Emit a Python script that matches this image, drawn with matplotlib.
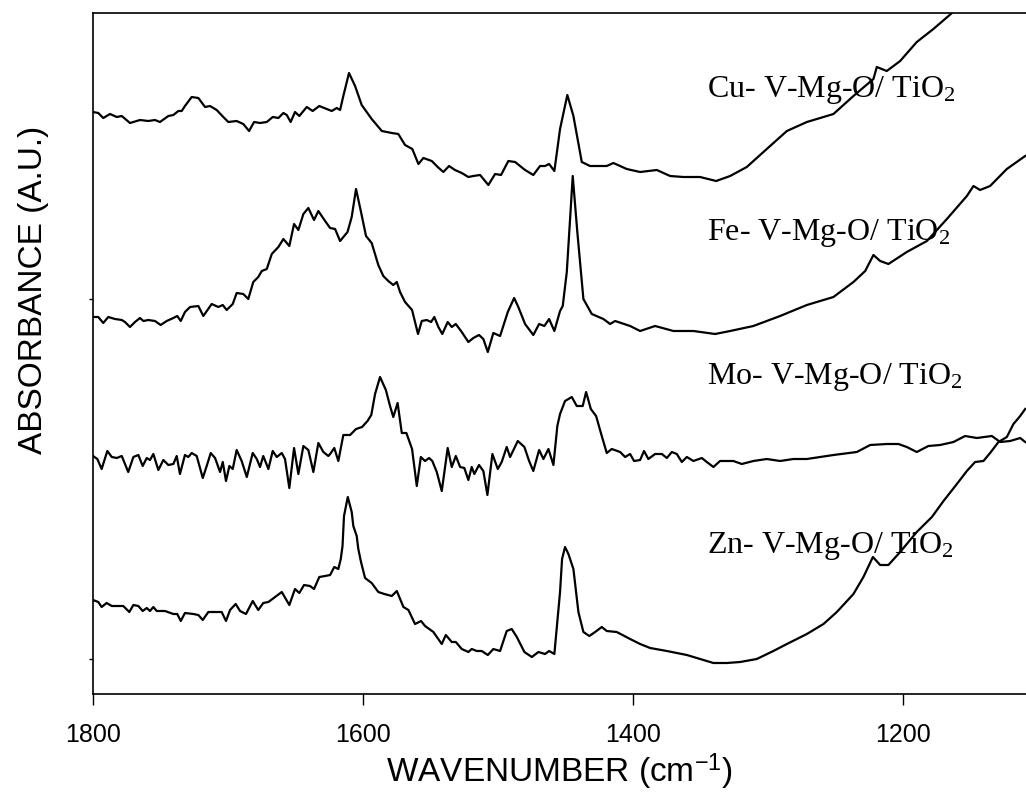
import matplotlib
matplotlib.use("Agg")
import matplotlib.pyplot as plt

# ---------------- data (arbitrary absorbance units) ----------------
cu_wn = [1800.0, 1796.1, 1792.4, 1787.4, 1782.4, 1778.7, 1772.6, 1765.2, 1759.0, 1754.1,
         1750.4, 1744.2, 1740.5, 1736.8, 1734.3, 1731.9, 1726.9, 1722.0, 1717.0, 1713.3,
         1708.4, 1703.5, 1699.8, 1693.6, 1688.7, 1684.4, 1680.7, 1676.3, 1671.3, 1666.9,
         1662.7, 1659.0, 1656.5, 1653.6, 1650.4, 1647.2, 1641.7, 1637.3, 1632.4, 1626.9,
         1623.2, 1619.5, 1617.0, 1614.6, 1610.4, 1605.9, 1601.0, 1593.6, 1586.1, 1578.7,
         1573.9, 1568.9, 1563.5, 1559.0, 1555.3, 1549.1, 1544.7, 1540.5, 1536.3, 1531.9,
         1526.9, 1522.0, 1518.3, 1513.3, 1507.2, 1502.2, 1497.8, 1492.4, 1487.4, 1480.0,
         1473.9, 1468.9, 1465.2, 1462.2, 1458.3, 1454.1, 1448.7, 1444.2, 1438.0, 1431.9,
         1419.5, 1414.6, 1404.7, 1394.8, 1382.4, 1372.6, 1362.7, 1350.4, 1338.5, 1328.1,
         1315.8, 1301.0, 1286.1, 1271.3, 1251.6, 1236.8, 1222.0, 1219.5, 1212.1, 1202.2,
         1189.9, 1177.6, 1164.7, 1157.8]
cu_abs = [5.82, 5.81, 5.76, 5.80, 5.77, 5.78, 5.71, 5.74, 5.73, 5.74,
          5.72, 5.78, 5.79, 5.83, 5.83, 5.88, 5.97, 5.96, 5.87, 5.88,
          5.84, 5.77, 5.72, 5.73, 5.70, 5.63, 5.72, 5.71, 5.72, 5.77,
          5.76, 5.81, 5.79, 5.72, 5.82, 5.78, 5.87, 5.83, 5.88, 5.85,
          5.83, 5.86, 5.84, 5.98, 6.21, 6.08, 5.89, 5.75, 5.63, 5.61,
          5.60, 5.49, 5.45, 5.30, 5.36, 5.33, 5.27, 5.22, 5.28, 5.24,
          5.21, 5.17, 5.18, 5.19, 5.09, 5.20, 5.19, 5.33, 5.32, 5.24,
          5.19, 5.28, 5.28, 5.30, 5.23, 5.65, 5.99, 5.78, 5.32, 5.28,
          5.28, 5.31, 5.25, 5.22, 5.24, 5.18, 5.17, 5.17, 5.13, 5.18,
          5.27, 5.45, 5.63, 5.72, 5.80, 5.98, 6.15, 6.27, 6.23, 6.33,
          6.52, 6.65, 6.80, 6.90]

fe_wn = [1800.0, 1796.1, 1792.4, 1788.7, 1783.7, 1778.7, 1776.3, 1772.6, 1768.9, 1765.2,
         1762.7, 1759.0, 1754.1, 1749.9, 1745.4, 1740.5, 1737.6, 1735.0, 1731.9, 1728.1,
         1722.0, 1718.3, 1712.1, 1707.2, 1703.9, 1701.0, 1696.5, 1693.6, 1688.7, 1685.0,
         1681.3, 1677.6, 1675.0, 1671.3, 1667.6, 1662.7, 1659.0, 1654.6, 1651.1, 1647.9,
         1644.2, 1640.5, 1636.3, 1633.1, 1628.1, 1624.4, 1620.7, 1617.0, 1611.5, 1608.4,
         1605.2, 1601.5, 1597.8, 1593.6, 1588.7, 1585.0, 1581.3, 1577.6, 1575.0, 1572.6,
         1568.9, 1563.7, 1559.3, 1556.5, 1552.8, 1549.6, 1547.2, 1544.2, 1541.3, 1537.3,
         1534.3, 1531.3, 1526.9, 1522.0, 1518.3, 1514.1, 1510.9, 1507.6, 1503.5, 1498.5,
         1492.8, 1488.1, 1485.0, 1480.0, 1473.9, 1469.6, 1465.7, 1462.2, 1458.3, 1454.1,
         1452.1, 1449.1, 1444.7, 1441.3, 1436.8, 1430.6, 1422.0, 1417.0, 1413.3, 1402.2,
         1394.8, 1383.7, 1370.1, 1355.3, 1339.3, 1328.1, 1310.9, 1291.1, 1271.3, 1251.6,
         1236.8, 1228.1, 1222.0, 1217.0, 1210.9, 1197.3, 1182.4, 1167.6, 1152.8, 1147.9,
         1143.0, 1135.6, 1123.2, 1109.6]
fe_abs = [3.77, 3.77, 3.71, 3.77, 3.75, 3.74, 3.72, 3.67, 3.72, 3.76,
          3.73, 3.74, 3.73, 3.69, 3.73, 3.76, 3.78, 3.73, 3.82, 3.87,
          3.88, 3.78, 3.90, 3.87, 3.89, 3.84, 3.90, 4.01, 4.00, 3.95,
          4.12, 4.17, 4.23, 4.25, 4.40, 4.47, 4.55, 4.48, 4.70, 4.64,
          4.80, 4.86, 4.74, 4.83, 4.73, 4.66, 4.65, 4.53, 4.62, 4.77,
          5.05, 4.82, 4.58, 4.51, 4.29, 4.18, 4.13, 4.09, 4.12, 4.02,
          3.92, 3.84, 3.60, 3.73, 3.74, 3.72, 3.77, 3.67, 3.60, 3.72,
          3.67, 3.70, 3.62, 3.52, 3.56, 3.59, 3.55, 3.42, 3.61, 3.58,
          3.82, 3.96, 3.87, 3.70, 3.59, 3.70, 3.68, 3.75, 3.63, 3.83,
          3.88, 4.22, 5.18, 4.62, 3.95, 3.80, 3.75, 3.70, 3.73, 3.68,
          3.63, 3.68, 3.63, 3.63, 3.60, 3.63, 3.68, 3.78, 3.89, 3.97,
          4.12, 4.23, 4.39, 4.33, 4.30, 4.42, 4.53, 4.75, 4.98, 5.08,
          5.04, 5.08, 5.25, 5.38]

mo_wn = [1800.0, 1796.8, 1793.6, 1789.4, 1786.1, 1782.4, 1778.7, 1773.9, 1770.1, 1766.4,
         1763.2, 1760.2, 1757.8, 1755.3, 1751.6, 1747.9, 1744.2, 1740.5, 1738.0, 1735.6,
         1731.9, 1729.4, 1726.9, 1723.2, 1718.7, 1715.8, 1712.8, 1709.6, 1705.9, 1703.9,
         1701.5, 1699.0, 1696.5, 1693.6, 1689.9, 1686.1, 1681.7, 1678.7, 1676.3, 1673.9,
         1670.1, 1666.9, 1663.9, 1660.2, 1657.8, 1654.6, 1651.1, 1647.9, 1644.2, 1640.5,
         1636.8, 1633.1, 1629.4, 1625.7, 1624.4, 1621.3, 1618.3, 1614.6, 1609.6, 1605.2,
         1600.7, 1596.7, 1593.9, 1591.1, 1587.4, 1583.1, 1580.0, 1577.6, 1574.4, 1571.3,
         1567.9, 1563.7, 1560.2, 1557.2, 1554.1, 1551.1, 1548.7, 1545.4, 1541.7, 1537.3,
         1534.3, 1531.3, 1528.1, 1525.0, 1522.0, 1519.5, 1517.6, 1514.1, 1510.9, 1507.9,
         1504.2, 1500.2, 1497.3, 1493.6, 1491.1, 1485.4, 1480.5, 1477.0, 1473.9, 1469.6,
         1466.4, 1462.7, 1459.0, 1456.1, 1454.1, 1450.4, 1445.4, 1441.7, 1437.3, 1434.8,
         1431.3, 1427.4, 1423.2, 1419.5, 1415.8, 1409.6, 1405.9, 1402.2, 1399.3, 1394.8,
         1391.9, 1388.7, 1383.7, 1378.7, 1375.0, 1371.3, 1367.6, 1363.9, 1360.2, 1355.3,
         1349.1, 1345.4, 1340.5, 1335.6, 1325.7, 1319.5, 1310.9, 1301.0, 1291.1, 1281.3,
         1271.3, 1251.6, 1234.3, 1224.4, 1212.1, 1203.5, 1197.3, 1189.9, 1181.3, 1172.6,
         1162.7, 1154.1, 1145.4, 1134.3, 1128.1, 1120.7, 1113.3, 1109.6]
mo_abs = [2.38, 2.35, 2.25, 2.43, 2.37, 2.36, 2.38, 2.22, 2.37, 2.39,
          2.28, 2.36, 2.34, 2.40, 2.24, 2.34, 2.29, 2.30, 2.38, 2.20,
          2.39, 2.37, 2.41, 2.38, 2.16, 2.28, 2.41, 2.36, 2.22, 2.32,
          2.13, 2.28, 2.25, 2.44, 2.33, 2.17, 2.41, 2.35, 2.27, 2.38,
          2.25, 2.43, 2.37, 2.41, 2.35, 2.06, 2.46, 2.20, 2.48, 2.44,
          2.22, 2.51, 2.42, 2.38, 2.40, 2.46, 2.33, 2.59, 2.59, 2.65,
          2.67, 2.73, 2.79, 3.00, 3.17, 3.04, 2.88, 2.77, 2.91, 2.61,
          2.61, 2.45, 2.08, 2.37, 2.33, 2.36, 2.33, 2.22, 2.03, 2.46,
          2.27, 2.38, 2.27, 2.26, 2.14, 2.27, 2.20, 2.29, 2.23, 1.99,
          2.40, 2.25, 2.32, 2.47, 2.37, 2.53, 2.47, 2.33, 2.23, 2.44,
          2.35, 2.45, 2.29, 2.68, 2.80, 2.93, 2.97, 2.88, 2.88, 3.02,
          2.85, 2.78, 2.58, 2.41, 2.45, 2.42, 2.37, 2.40, 2.33, 2.34,
          2.43, 2.35, 2.40, 2.40, 2.36, 2.42, 2.40, 2.32, 2.37, 2.33,
          2.36, 2.32, 2.27, 2.33, 2.33, 2.30, 2.33, 2.35, 2.33, 2.35,
          2.35, 2.39, 2.42, 2.49, 2.50, 2.50, 2.47, 2.42, 2.48, 2.49,
          2.52, 2.58, 2.56, 2.58, 2.52, 2.53, 2.56, 2.52]

zn_wn = [1800.0, 1796.1, 1793.6, 1789.9, 1786.1, 1782.4, 1777.6, 1773.1, 1770.1, 1766.4,
         1763.2, 1760.2, 1757.8, 1755.3, 1752.8, 1746.7, 1740.5, 1737.6, 1735.0, 1731.9,
         1725.7, 1722.0, 1718.7, 1714.6, 1709.6, 1704.7, 1701.5, 1698.5, 1694.3, 1691.1,
         1686.7, 1681.7, 1677.6, 1673.9, 1670.1, 1665.2, 1660.2, 1654.6, 1650.4, 1647.2,
         1643.7, 1639.3, 1636.3, 1632.4, 1628.1, 1624.4, 1621.3, 1618.3, 1616.5, 1615.2,
         1614.1, 1611.3, 1608.4, 1607.2, 1604.7, 1603.5, 1601.5, 1598.5, 1593.6, 1588.7,
         1584.2, 1578.7, 1575.0, 1570.1, 1566.4, 1561.5, 1557.0, 1554.1, 1547.9, 1541.7,
         1538.7, 1534.3, 1531.3, 1526.9, 1522.0, 1519.5, 1515.8, 1512.1, 1507.6, 1503.5,
         1498.5, 1493.6, 1489.9, 1486.1, 1480.5, 1475.0, 1470.1, 1465.2, 1462.2, 1458.3,
         1455.3, 1454.1, 1452.6, 1450.4, 1447.9, 1444.2, 1440.5, 1436.8, 1432.4, 1428.1,
         1423.2, 1419.5, 1412.1, 1402.2, 1394.8, 1387.4, 1375.0, 1360.2, 1347.9, 1340.5,
         1330.6, 1320.7, 1308.4, 1296.1, 1286.1, 1271.3, 1259.0, 1249.1, 1236.8, 1229.4,
         1222.4, 1217.0, 1210.9, 1202.2, 1189.9, 1178.7, 1170.1, 1160.2, 1152.8, 1146.7,
         1140.5, 1135.0, 1129.4, 1123.2, 1118.3, 1113.3, 1109.6]
zn_abs = [0.94, 0.92, 0.87, 0.91, 0.88, 0.88, 0.88, 0.82, 0.89, 0.88,
          0.83, 0.86, 0.83, 0.87, 0.83, 0.83, 0.80, 0.80, 0.73, 0.81,
          0.80, 0.79, 0.74, 0.82, 0.82, 0.82, 0.73, 0.84, 0.90, 0.83,
          0.80, 0.93, 0.84, 0.91, 0.92, 0.97, 1.02, 0.89, 1.05, 1.01,
          1.09, 1.08, 1.05, 1.17, 1.18, 1.19, 1.27, 1.25, 1.35, 1.48,
          1.78, 1.97, 1.82, 1.68, 1.58, 1.45, 1.32, 1.16, 1.11, 1.02,
          1.00, 0.98, 1.03, 0.87, 0.84, 0.70, 0.73, 0.68, 0.62, 0.50,
          0.59, 0.52, 0.52, 0.45, 0.42, 0.45, 0.43, 0.43, 0.39, 0.45,
          0.43, 0.63, 0.65, 0.57, 0.42, 0.37, 0.42, 0.40, 0.43, 0.40,
          0.85, 1.02, 1.35, 1.47, 1.40, 1.25, 0.82, 0.62, 0.58, 0.62,
          0.67, 0.63, 0.62, 0.55, 0.50, 0.46, 0.43, 0.39, 0.34, 0.31,
          0.31, 0.32, 0.35, 0.43, 0.50, 0.60, 0.70, 0.82, 1.00, 1.17,
          1.37, 1.29, 1.29, 1.42, 1.62, 1.77, 1.93, 2.10, 2.23, 2.32,
          2.33, 2.42, 2.52, 2.57, 2.70, 2.78, 2.85]

labels = ["Cu- V-Mg-O/ TiO$_2$", "Fe- V-Mg-O/ TiO$_2$",
          "Mo- V-Mg-O/ TiO$_2$", "Zn- V-Mg-O/ TiO$_2$"]
label_y = [5.98, 4.55, 3.11, 1.42]
label_x = 1345
x_ticks = [1800, 1600, 1400, 1200]
y_ticks = [3.95, 0.35]

# ---------------- figure ----------------
plt.rcParams['mathtext.fontset'] = 'custom'
plt.rcParams['mathtext.rm'] = 'Liberation Serif'
plt.rcParams['mathtext.it'] = 'Liberation Serif:italic'
plt.rcParams['mathtext.sf'] = 'Liberation Sans'

fig = plt.figure(figsize=(10.26, 8.12), dpi=100)
ax = fig.add_axes([93/1026, 117/812, 933/1026, 681/812])

for wn, a in [(cu_wn, cu_abs), (fe_wn, fe_abs), (mo_wn, mo_abs), (zn_wn, zn_abs)]:
    ax.plot(wn, a, color='black', lw=1.6, solid_joinstyle='round')

for lab, ly in zip(labels, label_y):
    ax.text(label_x, ly, lab, family='Liberation Serif', fontsize=23,
            ha='left', va='baseline', color='black')

ax.set_xlim(1800, 1109)
ax.set_ylim(0, 6.81)
ax.spines['right'].set_visible(False)
for s in ['left', 'bottom', 'top']:
    ax.spines[s].set_linewidth(1.2)

ax.set_xticks(x_ticks)
ax.set_xticklabels([str(t) for t in x_ticks], family='Liberation Sans', fontsize=18)
ax.tick_params(axis='x', direction='out', length=8, width=1.0, pad=12)
ax.set_yticks(y_ticks)
ax.set_yticklabels([])
ax.tick_params(axis='y', direction='out', length=3, width=1.0)

ax.set_xlabel(r"WAVENUMBER (cm$^{\mathsf{-1}}$)", family='Liberation Sans', fontsize=24, labelpad=4)
ax.set_ylabel("ABSORBANCE (A.U.)", family='Liberation Sans', fontsize=24)
ax.yaxis.set_label_coords(-0.047, 0.595)

fig.savefig("out.png", dpi=100)
